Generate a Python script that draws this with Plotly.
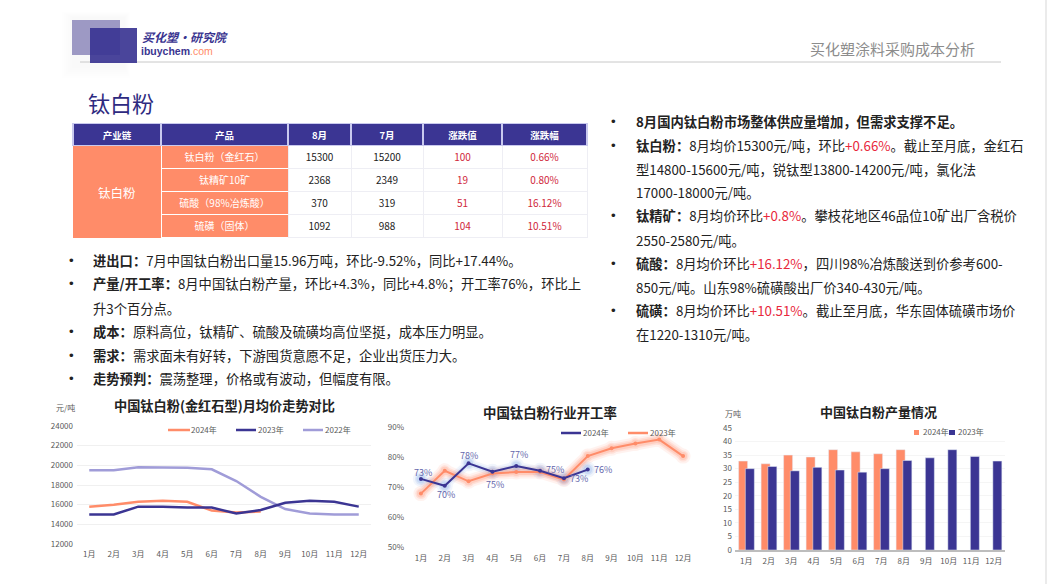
import plotly.graph_objects as go

FONT = "Noto Sans CJK SC"
ORANGE = "#ff8c69"
NAVY = "#3b3593"
LILAC = "#a09cd8"
RED = "#e8283c"
W, H = 1048, 584

months = ["1月", "2月", "3月", "4月", "5月", "6月", "7月", "8月", "9月", "10月", "11月", "12月"]

# price chart
price_2024 = [15800, 16000, 16300, 16400, 16300, 15400, 15200, 15300]
price_2023 = [15000, 15000, 15800, 15800, 15700, 15700, 15100, 15450, 16200, 16400, 16300, 15800]
price_2022 = [19500, 19500, 19800, 19800, 19750, 19600, 18400, 16800, 15550, 15100, 15000, 15000]

# operating rate chart
rate_2024 = [72.7, 70.4, 77.9, 75.1, 77.0, 75.4, 72.9, 75.8]
rate_2023 = [67.8, 75.4, 71.9, 74.5, 75.0, 75.0, 72.5, 80.3, 82.9, 84.5, 85.8, 80.3]
rate_labels = ["73%", "70%", "78%", "75%", "77%", "75%", "73%", "76%"]

# output chart
output_2024 = [32.8, 31.8, 35.0, 34.3, 37.0, 36.2, 35.5, 37.0]
output_2023 = [30.0, 30.8, 29.2, 30.5, 29.5, 28.7, 30.0, 33.0, 34.0, 37.0, 34.5, 32.8]

# table
table_header = ["产业链", "产品", "8月", "7月", "涨跌值", "涨跌幅"]
table_chain = ["", "", "", ""]
table_products = ["钛白粉\uff08金红石\uff09", "钛精矿10矿", "硫酸\uff0898%冶炼酸\uff09", "硫磺\uff08固体\uff09"]
table_aug = [15300, 2368, 370, 1092]
table_jul = [15200, 2349, 319, 988]
table_change = [100, 19, 51, 104]
table_pct = ["0.66%", "0.80%", "16.12%", "10.51%"]

# full width punctuation
CM = "\uff0c"
CN = "\uff1a"
SC = "\uff1b"

left_text = [
    ("•", f"<b>进出口{CN}</b>7月中国钛白粉出口量15.96万吨{CM}环比-9.52%{CM}同比+17.44%。"),
    ("•", f"<b>产量/开工率{CN}</b>8月中国钛白粉产量{CM}环比+4.3%{CM}同比+4.8%{SC}开工率76%{CM}环比上"),
    ("", "升3个百分点。"),
    ("•", f"<b>成本{CN}</b>原料高位{CM}钛精矿、硫酸及硫磺均高位坚挺{CM}成本压力明显。"),
    ("•", f"<b>需求{CN}</b>需求面未有好转{CM}下游囤货意愿不足{CM}企业出货压力大。"),
    ("•", f"<b>走势预判{CN}</b>震荡整理{CM}价格或有波动{CM}但幅度有限。"),
]
left_y = [261, 285, 309, 332, 356, 379]


def red(s):
    return f'<span style="color:{RED}">{s}</span>'


right_text = [
    ("•", f"<b>8月国内钛白粉市场整体供应量增加{CM}但需求支撑不足。</b>"),
    ("•", f"<b>钛白粉{CN}</b>8月均价15300元/吨{CM}环比{red('+0.66%')}。截止至月底{CM}金红石"),
    ("", f"型14800-15600元/吨{CM}锐钛型13800-14200元/吨{CM}氯化法"),
    ("", "17000-18000元/吨。"),
    ("•", f"<b>钛精矿{CN}</b>8月均价环比{red('+0.8%')}。攀枝花地区46品位10矿出厂含税价"),
    ("", "2550-2580元/吨。"),
    ("•", f"<b>硫酸{CN}</b>8月均价环比{red('+16.12%')}{CM}四川98%冶炼酸送到价参考600-"),
    ("", "850元/吨。山东98%硫磺酸出厂价340-430元/吨。"),
    ("•", f"<b>硫磺{CN}</b>8月均价环比{red('+10.51%')}。截止至月底{CM}华东固体硫磺市场价"),
    ("", "在1220-1310元/吨。"),
]
right_y = [122, 146, 170, 194, 217, 241, 264, 288, 311, 335]


def px_x(x):
    return x / W


def px_y(y):
    return 1 - y / H


def note(x, y, text, size=13.3, color="#222222", xanchor="left", family=FONT):
    # the CJK face sits a little low in its line box, hence the -1
    return dict(
        x=px_x(x), y=px_y(y - 1), xref="paper", yref="paper", text=text, showarrow=False,
        xanchor=xanchor, yanchor="middle", align="left", borderpad=0, borderwidth=0,
        font=dict(family=family, size=size, color=color),
    )


def key_line(x0, x1, y, color):
    return dict(type="line", xref="paper", yref="paper", x0=px_x(x0), x1=px_x(x1), y0=px_y(y), y1=px_y(y), line=dict(color=color, width=2.5))


def key_box(x0, x1, y0, y1, color):
    return dict(type="rect", xref="paper", yref="paper", x0=px_x(x0), x1=px_x(x1), y0=px_y(y1), y1=px_y(y0), fillcolor=color, line_width=0)


fig = go.Figure()

# table, the merged first column is drawn with a same coloured border
fig.add_trace(
    go.Table(
        domain=dict(x=[px_x(73), px_x(587)], y=[px_y(242), px_y(123.5)]),
        columnwidth=[88, 127, 63, 72, 79, 85],
        header=dict(
            values=table_header,
            fill_color=NAVY,
            line=dict(color="#c9c9ee", width=1.5),
            font=dict(family=FONT, size=9.5, color="white", weight="bold"),
            align="center",
            height=22,
        ),
        cells=dict(
            values=[table_chain, table_products, table_aug, table_jul, table_change, table_pct],
            fill_color=[[ORANGE] * 4, [ORANGE] * 4, ["white"] * 4, ["white"] * 4, ["white"] * 4, ["white"] * 4],
            line=dict(
                color=[[ORANGE] * 4, ["white"] * 4, ["#eeeef4"] * 4, ["#eeeef4"] * 4, ["#eeeef4"] * 4, ["#eeeef4"] * 4],
                width=1,
            ),
            font=dict(
                family=FONT,
                size=10,
                color=["white", "white", "#222222", "#222222", "#d0283c", "#d0283c"],
            ),
            align="center",
            height=23,
        ),
    )
)

# price chart
fig.add_trace(go.Scatter(x=months, y=price_2022, name="2022年", mode="lines", line=dict(color=LILAC, width=2.5), xaxis="x", yaxis="y"))
fig.add_trace(go.Scatter(x=months, y=price_2024, name="2024年", mode="lines", line=dict(color=ORANGE, width=2.5), xaxis="x", yaxis="y"))
fig.add_trace(go.Scatter(x=months, y=price_2023, name="2023年", mode="lines", line=dict(color=NAVY, width=2.5), xaxis="x", yaxis="y"))

# operating rate chart, glow first so the lines sit on top
for width, opacity in [(13, 0.1), (9, 0.16), (6, 0.22)]:
    fig.add_trace(go.Scatter(x=months, y=rate_2023, mode="lines+markers", line=dict(color=ORANGE, width=width), marker=dict(size=width + 2, color=ORANGE), opacity=opacity, hoverinfo="skip", xaxis="x2", yaxis="y2"))
    fig.add_trace(go.Scatter(x=months, y=rate_2024, mode="lines+markers", line=dict(color="#7fa6e8", width=width - 4), marker=dict(size=width + 3, color="#7fa6e8"), opacity=opacity, hoverinfo="skip", xaxis="x2", yaxis="y2"))
fig.add_trace(go.Scatter(x=months, y=rate_2023, name="2023年", mode="lines+markers", line=dict(color=ORANGE, width=2), marker=dict(size=4), xaxis="x2", yaxis="y2"))
fig.add_trace(go.Scatter(x=months, y=rate_2024, name="2024年", mode="lines+markers", line=dict(color=NAVY, width=2), marker=dict(size=4), xaxis="x2", yaxis="y2"))

# output chart
fig.add_trace(go.Bar(x=months, y=output_2024, name="2024年", marker_color=ORANGE, width=0.4, offset=-0.34, xaxis="x3", yaxis="y3"))
fig.add_trace(go.Bar(x=months, y=output_2023, name="2023年", marker_color=NAVY, width=0.4, offset=-0.04, xaxis="x3", yaxis="y3"))

tick_font = dict(family=FONT, size=8, color="#595959")


def x_axis(left, right, anchor, **kw):
    return dict(
        domain=[px_x(left), px_x(right)], anchor=anchor, type="category",
        categoryorder="array", categoryarray=months, range=[-0.5, 11.5],
        showgrid=False, zeroline=False, tickfont=tick_font, ticks="", automargin=False, **kw,
    )


def y_axis(top, bottom, anchor, **kw):
    return dict(
        domain=[px_y(bottom), px_y(top)], anchor=anchor, zeroline=False,
        tickfont=tick_font, ticks="", tickformat="d", automargin=False, **kw,
    )


key_font = dict(size=8, color="#595959")
annotations = [
    note(88, 103, "钛白粉", size=22, color="#2e2a7f"),
    note(810, 49, "买化塑涂料采购成本分析", size=15, color="#8c8c8c"),
    note(142, 38, "<b><i>买化塑·研究院</i></b>", size=12, color="#3a3590"),
    note(141, 52, f'<b>ibuychem</b><span style="color:{ORANGE}">.com</span>', size=10.5, color="#3a3590", family="Liberation Sans"),
    note(117, 193, "钛白粉", size=12.5, color="white", xanchor="center"),
    note(224, 406, "<b>中国钛白粉(金红石型)月均价走势对比</b>", size=13.2, xanchor="center"),
    note(550, 413, "<b>中国钛白粉行业开工率</b>", size=13.4, xanchor="center"),
    note(878, 412, "<b>中国钛白粉产量情况</b>", size=13, xanchor="center"),
    note(65, 408, "元/吨", size=8, color="#595959", xanchor="center"),
    note(733, 414, "万吨", size=8, color="#595959", xanchor="center"),
    # legends
    note(191, 430, "2024年", **key_font),
    note(258, 430, "2023年", **key_font),
    note(325, 430, "2022年", **key_font),
    note(583, 433, "2024年", **key_font),
    note(650, 433, "2023年", **key_font),
    note(923, 432, "2024年", **key_font),
    note(958, 432, "2023年", **key_font),
]
for (bullet, text), y in zip(left_text, left_y):
    if bullet:
        annotations.append(note(69, y, bullet, family="Liberation Sans"))
    annotations.append(note(93, y, text))
for (bullet, text), y in zip(right_text, right_y):
    if bullet:
        annotations.append(note(611, y, bullet, family="Liberation Sans"))
    annotations.append(note(636, y, text))

# hand placed labels, the 6月-8月 ones sit to the right of their points
label_shift = [(2, -6), (1, 9), (0, -8), (3, 13), (3, -12), (15, -1), (15, 0), (15, 0)]
for month, value, label, (dx, dy) in zip(months, rate_2024, rate_labels, label_shift):
    annotations.append(
        dict(
            x=month, y=value, xref="x2", yref="y2", text=label, showarrow=False,
            xshift=dx, yshift=-dy, font=dict(family=FONT, size=9, color="#6366ab"),
        )
    )

page_shapes = [
    dict(type="rect", xref="paper", yref="paper", x0=px_x(62 + i * 2), x1=px_x(130 - i), y0=px_y(78 - i * 2), y1=px_y(12 + i), fillcolor="#000000", opacity=0.004, line_width=0, layer="below")
    for i in range(6)
] + [
    dict(type="line", xref="paper", yref="paper", x0=px_x(80), x1=px_x(1001), y0=px_y(62), y1=px_y(62), line=dict(color="#c8c8c8", width=1)),
    dict(type="rect", xref="paper", yref="paper", x0=px_x(72), x1=px_x(120), y0=px_y(55), y1=px_y(20), fillcolor="#9d99c4", line_width=0),
    dict(type="rect", xref="paper", yref="paper", x0=px_x(90), x1=px_x(137), y0=px_y(63), y1=px_y(28), fillcolor=NAVY, opacity=0.92, line_width=0),
    dict(type="line", xref="paper", yref="paper", x0=px_x(1046), x1=px_x(1046), y0=0, y1=1, line=dict(color="#e4e4e4", width=1.5)),
    key_line(168, 190, 430, ORANGE),
    key_line(236, 256, 430, NAVY),
    key_line(303, 323, 430, LILAC),
    key_line(561, 581, 433, NAVY),
    key_line(628, 648, 433, ORANGE),
    key_box(914, 919, 430, 435, ORANGE),
    key_box(949, 955, 430, 435, NAVY),
]

fig.update_layout(
    width=W,
    height=H,
    margin=dict(l=0, r=0, t=0, b=0),
    paper_bgcolor="white",
    plot_bgcolor="white",
    barmode="overlay",
    hovermode=False,
    showlegend=False,
    xaxis=x_axis(77, 371, "y", ticklabelstandoff=4),
    yaxis=y_axis(426, 544, "x", range=[12000, 24000], dtick=2000, gridcolor="#f0f0f0", gridwidth=1, ticklabelstandoff=3),
    xaxis2=x_axis(409, 695, "y2", ticklabelstandoff=5),
    yaxis2=y_axis(427, 547, "x2", range=[50, 90], dtick=10, ticksuffix="%", showgrid=False, ticklabelstandoff=4),
    xaxis3=x_axis(735, 1005, "y3", showline=True, linecolor="#bdbdbd", linewidth=1.5, ticklabelstandoff=3),
    yaxis3=y_axis(428, 550, "x3", range=[0, 45], dtick=5, gridcolor="#f5f5f5", gridwidth=1, ticklabelstandoff=2),
    shapes=page_shapes,
    annotations=annotations,
)

fig.write_html(
    "out.html",
    config={"displayModeBar": False},
    post_script="document.body.style.margin='0';document.body.style.overflow='hidden';",
)
